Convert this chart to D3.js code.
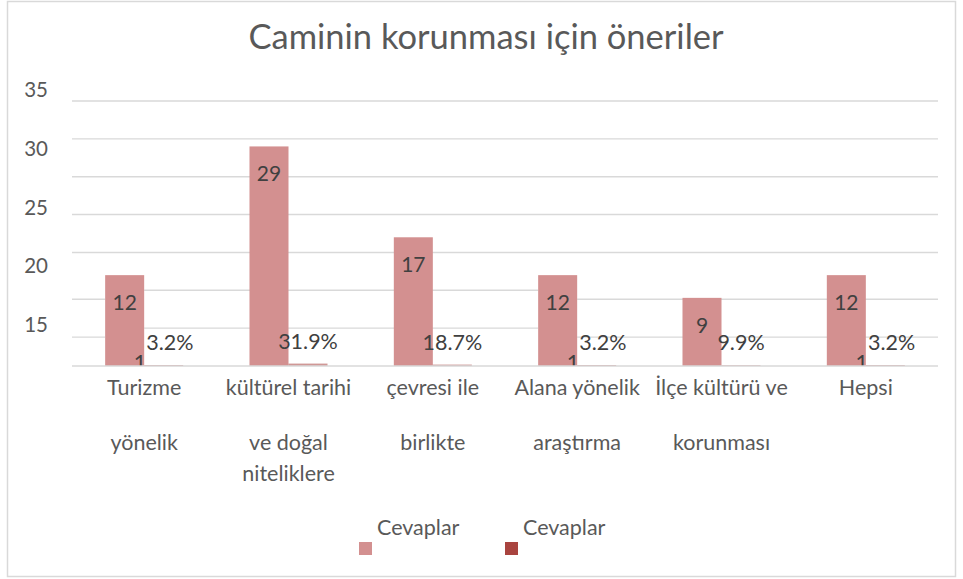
<!DOCTYPE html>
<html>
<head>
<meta charset="utf-8">
<script src="https://cdn.jsdelivr.net/npm/d3@7"></script>
<style>
  html, body { margin: 0; padding: 0; background: #fff; }
  svg { display: block; font-family: Lato, "Noto Sans", sans-serif; }
</style>
</head>
<body>
<svg id="chart" width="963" height="579"></svg>
<script>
// ---- data ----
const title = "Caminin korunması için öneriler";
const categoryLines = [
  ["Turizme", "yönelik"],
  ["kültürel tarihi", "ve doğal", "niteliklere"],
  ["çevresi ile", "birlikte"],
  ["Alana yönelik", "araştırma"],
  ["İlçe kültürü ve", "korunması"],
  ["Hepsi"]
];
const categories = categoryLines.map(l => l.join(" "));
const counts = [12, 29, 17, 12, 9, 12];
const shares = [0.132, 0.319, 0.187, 0.132, 0.099, 0.132];
const shareLabels = ["13.2%", "31.9%", "18.7%", "13.2%", "9.9%", "13.2%"];
const seriesNames = ["Cevaplar", "Cevaplar"];
const yTickLabels = [35, 30, 25, 20, 15];
const gridValues = [35, 30, 25, 20, 15, 10, 5];
// categories whose percentage label has its leading digit dropped below the axis in the original
const droppedLeadDigit = ["Turizme yönelik", "Alana yönelik araştırma", "Hepsi"];

// ---- style / layout ----
const colors = ["#D39090", "#A9443F"];
const axisText = "#595959";
const labelText = "#404040";
const gridColor = "#D9D9D9";
const plot = { left: 72, right: 938, top: 101, bottom: 366 };
const glitchShift = 9;
const lineY = [395, 450, 481];

const svg = d3.select("#chart");

// frame
svg.append("rect")
  .attr("x", 7.5).attr("y", 1.5).attr("width", 948).attr("height", 575)
  .attr("fill", "#fff").attr("stroke", gridColor).attr("stroke-width", 1.5);

// title
svg.append("text")
  .attr("x", 486).attr("y", 49)
  .attr("text-anchor", "middle")
  .attr("font-size", 34.5)
  .attr("fill", axisText)
  .text(title);

// scales
const x0 = d3.scaleBand().domain(categories).range([plot.left, plot.right]).padding(0);
const x1 = d3.scaleBand().domain([0, 1]).range([0, x0.bandwidth()]).paddingInner(0).paddingOuter(0.85);
const y = d3.scaleLinear().domain([0, 35]).range([plot.bottom, plot.top]);
const yLab = d3.scaleLinear().domain([35, 15]).range([90, 325]);

// gridlines
const grid = svg.append("g").attr("stroke", gridColor).attr("stroke-width", 1.4);
const c0 = categories[0], c3 = categories[3];
gridValues.forEach(v => {
  if (v >= 15) {
    grid.append("line").attr("x1", plot.left).attr("x2", plot.right)
      .attr("y1", y(v)).attr("y2", y(v));
  } else {
    grid.append("line")
      .attr("x1", x0(c0) + x1(1)).attr("x2", x0(c3) + x1(0))
      .attr("y1", y(v)).attr("y2", y(v));
    grid.append("line")
      .attr("x1", plot.left).attr("x2", x0(c0) + x1(0))
      .attr("y1", y(v) + glitchShift).attr("y2", y(v) + glitchShift);
    grid.append("line")
      .attr("x1", x0(c3) + x1(0) + x1.bandwidth()).attr("x2", plot.right)
      .attr("y1", y(v) + glitchShift).attr("y2", y(v) + glitchShift);
  }
});

// y tick labels
svg.append("g").selectAll("text").data(yTickLabels).join("text")
  .attr("x", 48).attr("y", d => yLab(d))
  .attr("dy", "0.35em")
  .attr("text-anchor", "end")
  .attr("font-size", 20.5)
  .attr("fill", axisText)
  .text(d => d);

// clip for plot area
svg.append("defs").append("clipPath").attr("id", "plotClip")
  .append("rect").attr("x", plot.left).attr("y", 0)
  .attr("width", plot.right - plot.left).attr("height", plot.bottom);

const g = svg.append("g").attr("clip-path", "url(#plotClip)");

// bars series 1
g.selectAll("rect.s0").data(categories).join("rect")
  .attr("class", "s0")
  .attr("x", (d) => x0(d) + x1(0))
  .attr("width", x1.bandwidth())
  .attr("y", (d, i) => y(counts[i]))
  .attr("height", (d, i) => y(0) - y(counts[i]))
  .attr("fill", colors[0]);

// bars series 2
g.selectAll("rect.s1").data(categories).join("rect")
  .attr("class", "s1")
  .attr("x", (d) => x0(d) + x1(1))
  .attr("width", x1.bandwidth())
  .attr("y", (d, i) => y(shares[i]))
  .attr("height", (d, i) => y(0) - y(shares[i]))
  .attr("fill", colors[1])
  .attr("fill-opacity", 0.55);

// count labels
g.selectAll("text.c").data(categories).join("text")
  .attr("class", "c")
  .attr("x", d => x0(d) + x1(0) + x1.bandwidth() / 2)
  .attr("y", (d, i) => y(counts[i]) + 35)
  .attr("text-anchor", "middle")
  .attr("font-size", 21)
  .attr("fill", labelText)
  .text((d, i) => counts[i]);

// share labels
g.selectAll("text.p").data(categories).join("text")
  .attr("class", "p")
  .attr("x", d => x0(d) + x1(1) + x1.bandwidth() / 2)
  .attr("y", (d, i) => y(shares[i]) - 15)
  .attr("text-anchor", "middle")
  .attr("font-size", 21.5)
  .attr("fill", labelText)
  .each(function (d, i) {
    const t = d3.select(this);
    const s = shareLabels[i];
    if (droppedLeadDigit.includes(d)) {
      t.append("tspan").attr("dy", 20).text(s.slice(0, 1));
      t.append("tspan").attr("dy", -20).text(s.slice(1));
    } else {
      t.text(s);
    }
  });

// baseline
svg.append("line")
  .attr("x1", plot.left).attr("x2", plot.right)
  .attr("y1", y(0)).attr("y2", y(0))
  .attr("stroke", gridColor).attr("stroke-width", 1.6);

// category labels
const cat = svg.append("g");
categories.forEach((c, i) => {
  categoryLines[i].forEach((line, j) => {
    cat.append("text")
      .attr("x", x0(c) + x0.bandwidth() / 2)
      .attr("y", lineY[j])
      .attr("text-anchor", "middle")
      .attr("font-size", 21.5)
      .attr("fill", axisText)
      .text(line);
  });
});

// legend
const legendX = [359, 505];
const leg = svg.append("g");
seriesNames.forEach((name, i) => {
  leg.append("rect").attr("x", legendX[i]).attr("y", 542)
    .attr("width", 13).attr("height", 13).attr("fill", colors[i]);
  leg.append("text").attr("x", legendX[i] + 18).attr("y", 535)
    .attr("font-size", 21.5).attr("fill", axisText).text(name);
});
</script>
</body>
</html>
